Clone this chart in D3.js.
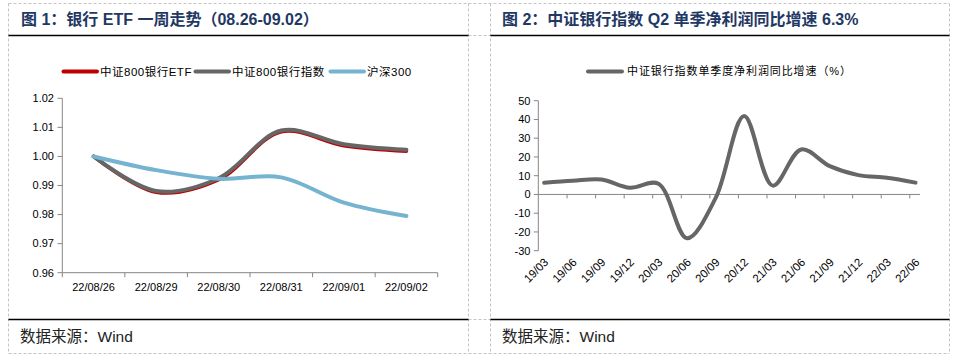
<!DOCTYPE html>
<html>
<head>
<meta charset="utf-8">
<script src="https://cdn.jsdelivr.net/npm/d3@7"></script>
<style>
  html, body { margin: 0; padding: 0; background: #fff; }
  svg { display: block; }
  text { font-family: "Liberation Sans", Arial, "Noto Sans CJK SC", sans-serif; }
</style>
</head>
<body>
<svg id="c" width="956" height="359"></svg>
<script>
// ---------- Data ----------
const dates1 = ["22/08/26", "22/08/29", "22/08/30", "22/08/31", "22/09/01", "22/09/02"];
const etf800Bank = [1.0000, 0.9877, 0.9920, 1.0085, 1.0037, 1.0018];
const idx800Bank = [1.0000, 0.9881, 0.9925, 1.0089, 1.0042, 1.0023];
const hs300 = [1.0000, 0.9953, 0.9923, 0.9928, 0.9841, 0.9795];
const yTicks1 = [0.96, 0.97, 0.98, 0.99, 1.00, 1.01, 1.02];
const seriesNames1 = ["中证800银行ETF", "中证800银行指数", "沪深300"];

const quarters2 = ["19/03", "19/06", "19/09", "19/12", "20/03", "20/06", "20/09", "20/12", "21/03", "21/06", "21/09", "21/12", "22/03", "22/06"];
const profitGrowth = [6.2, 7.3, 8.0, 3.6, 5.7, -23.4, -2.0, 41.8, 4.7, 24.0, 15.1, 10.3, 8.9, 6.3];
const yTicks2 = [-30, -20, -10, 0, 10, 20, 30, 40, 50];
const seriesName2 = "中证银行指数单季度净利润同比增速（%）";

const title1 = "图 1：银行 ETF 一周走势（08.26-09.02）";
const title2 = "图 2：中证银行指数 Q2 单季净利润同比增速 6.3%";
const source = "数据来源：Wind";

// ---------- Frame ----------
const svg = d3.select("#c");
const dashC = "#c4c4c4";
const colsX = [8.5, 468.5, 490.5, 949.5];
const rowsY = [3.5, 35.5, 319.5, 353.5];
const frame = svg.append("g");
colsX.forEach(x => frame.append("line").attr("x1", x).attr("x2", x).attr("y1", rowsY[0]).attr("y2", rowsY[3])
  .attr("stroke", dashC).attr("stroke-dasharray", "3,2"));
rowsY.forEach(y => frame.append("line").attr("x1", colsX[0]).attr("x2", colsX[3]).attr("y1", y).attr("y2", y)
  .attr("stroke", dashC).attr("stroke-dasharray", "3,2"));
[[colsX[0], colsX[1]], [colsX[2], colsX[3]]].forEach(([a, b]) => {
  [35.5, 319.5].forEach(y => frame.append("line").attr("x1", a).attr("x2", b).attr("y1", y).attr("y2", y)
    .attr("stroke", "#000").attr("stroke-width", 1.6));
});

// titles
const titleColor = "#1F3864";
svg.append("text").attr("x", 21).attr("y", 25).attr("font-size", 16).attr("font-weight", "bold")
  .attr("fill", titleColor).text(title1);
svg.append("text").attr("x", 502).attr("y", 25).attr("font-size", 16).attr("font-weight", "bold")
  .attr("fill", titleColor).text(title2);
// sources
svg.append("text").attr("x", 20).attr("y", 342).attr("font-size", 15.5).attr("fill", "#222").text(source);
svg.append("text").attr("x", 502).attr("y", 342).attr("font-size", 15.5).attr("fill", "#222").text(source);

const axisC = "#868686";
const fs = 11;

// ---------- Chart 1 ----------
{
  const g = svg.append("g");
  const x = d3.scaleBand().domain(dates1).range([62.3, 437.7]);
  const y = d3.scaleLinear().domain([0.96, 1.02]).range([272.7, 98.3]);
  g.append("line").attr("x1", 62.3).attr("x2", 62.3).attr("y1", y(1.02)).attr("y2", y(0.96)).attr("stroke", axisC);
  yTicks1.forEach(t => {
    g.append("line").attr("x1", 57.5).attr("x2", 62.3).attr("y1", y(t)).attr("y2", y(t)).attr("stroke", axisC);
    g.append("text").attr("x", 54).attr("y", y(t)).attr("dy", "0.35em").attr("text-anchor", "end")
      .attr("font-size", fs).attr("fill", "#000").text(d3.format(".2f")(t));
  });
  g.append("line").attr("x1", x.range()[0]).attr("x2", x.range()[1]).attr("y1", y(0.96)).attr("y2", y(0.96)).attr("stroke", axisC);
  const bounds = dates1.map(d => x(d)).concat([x.range()[1]]);
  bounds.forEach(b => g.append("line").attr("x1", b).attr("x2", b).attr("y1", y(0.96)).attr("y2", y(0.96) + 4.5).attr("stroke", axisC));
  dates1.forEach(d => g.append("text").attr("x", x(d) + x.bandwidth() / 2).attr("y", 291)
    .attr("text-anchor", "middle").attr("font-size", fs).attr("fill", "#000").text(d));

  const colors = ["#C00000", "#666666", "#74B4D0"];
  const data = [etf800Bank, idx800Bank, hs300];
  const line = d3.line().x((v, i) => x(dates1[i]) + x.bandwidth() / 2).y(v => y(v)).curve(d3.curveCatmullRom.alpha(0.5));
  data.forEach((s, k) => g.append("path").attr("d", line(s)).attr("fill", "none").attr("stroke", colors[k])
    .attr("stroke-width", k === 0 ? 3.5 : 4).attr("stroke-linecap", "round").attr("stroke-linejoin", "round"));

  const legX = [62, 194, 329];
  seriesNames1.forEach((n, k) => {
    g.append("line").attr("x1", legX[k] + 1.5).attr("x2", legX[k] + 35).attr("y1", 71.5).attr("y2", 71.5)
      .attr("stroke", colors[k]).attr("stroke-width", 4).attr("stroke-linecap", "round");
    g.append("text").attr("x", legX[k] + 38).attr("y", 71.5).attr("dy", "0.35em").attr("font-size", 11.5)
      .attr("letter-spacing", 0.5).attr("fill", "#000").text(n);
  });
}

// ---------- Chart 2 ----------
{
  const g = svg.append("g");
  const x = d3.scalePoint().domain(quarters2).range([544.2, 915.5]);
  const y = d3.scaleLinear().domain([-30, 50]).range([250.7, 100.7]);
  const ax0 = 538.3, ax1 = 920;
  g.append("line").attr("x1", ax0).attr("x2", ax0).attr("y1", y(50)).attr("y2", y(-30)).attr("stroke", axisC);
  yTicks2.forEach(t => {
    g.append("line").attr("x1", ax0 - 4.5).attr("x2", ax0).attr("y1", y(t)).attr("y2", y(t)).attr("stroke", axisC);
    g.append("text").attr("x", 530.5).attr("y", y(t)).attr("dy", "0.35em").attr("text-anchor", "end")
      .attr("font-size", fs).attr("fill", "#000").text(t);
  });
  g.append("line").attr("x1", ax0).attr("x2", ax1).attr("y1", y(0)).attr("y2", y(0)).attr("stroke", axisC);
  quarters2.slice(0, -1).forEach(q => {
    const tx = x(q) + 0.8 * x.step();
    g.append("line").attr("x1", tx).attr("x2", tx).attr("y1", y(0)).attr("y2", y(0) + 4).attr("stroke", axisC);
  });
  quarters2.forEach(q => g.append("text")
    .attr("transform", `translate(${x(q) + 2},${260}) rotate(-45)`)
    .attr("text-anchor", "end").attr("dy", "0.35em").attr("font-size", 11.5).attr("fill", "#000").text(q));

  const line = d3.line().x((v, i) => x(quarters2[i])).y(v => y(v)).curve(d3.curveCatmullRom.alpha(0.5));
  g.append("path").attr("d", line(profitGrowth)).attr("fill", "none").attr("stroke", "#666666")
    .attr("stroke-width", 4).attr("stroke-linecap", "round").attr("stroke-linejoin", "round");

  g.append("line").attr("x1", 588).attr("x2", 622).attr("y1", 71.5).attr("y2", 71.5)
    .attr("stroke", "#666666").attr("stroke-width", 4).attr("stroke-linecap", "round");
  g.append("text").attr("x", 627).attr("y", 71.5).attr("dy", "0.35em").attr("font-size", 11)
    .attr("letter-spacing", 0.9).attr("fill", "#000").text(seriesName2);
}
</script>
</body>
</html>
